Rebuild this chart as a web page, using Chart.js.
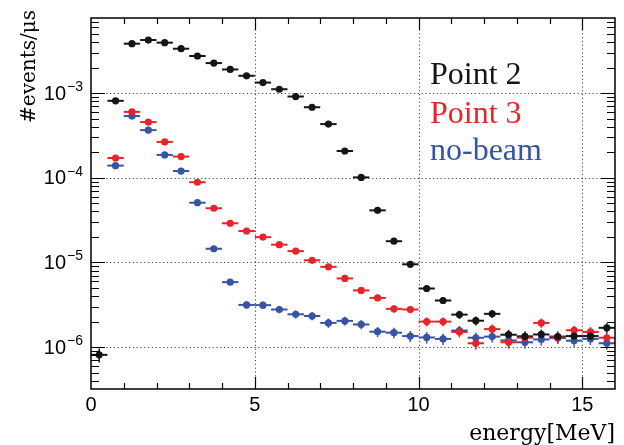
<!DOCTYPE html>
<html>
<head>
<meta charset="utf-8">
<script src="https://cdn.jsdelivr.net/npm/chart.js@4.4.0/dist/chart.umd.min.js"></script>
<style>
  html, body { margin: 0; padding: 0; background: #fff; }
  #wrap { width: 624px; height: 445px; position: relative; }
</style>
</head>
<body>
<div id="wrap"><canvas id="c" width="624" height="445"></canvas></div>
<script>
// Energy bins (MeV): centres of 0.5 MeV wide bins
const binCenters = [0.25, 0.75, 1.25, 1.75, 2.25, 2.75, 3.25, 3.75, 4.25, 4.75,
                    5.25, 5.75, 6.25, 6.75, 7.25, 7.75, 8.25, 8.75, 9.25, 9.75,
                    10.25, 10.75, 11.25, 11.75, 12.25, 12.75, 13.25, 13.75, 14.25, 14.75,
                    15.25, 15.75];
const binHalfWidth = 0.25;

// Rates in events per microsecond
const point2 = [8.1e-7, 8.1e-4, 3.83e-3, 4.23e-3, 3.94e-3, 3.34e-3, 2.74e-3, 2.26e-3, 1.90e-3, 1.60e-3,
                1.33e-3, 1.11e-3, 9.1e-4, 6.8e-4, 4.3e-4, 2.07e-4, 1.01e-4, 4.12e-5, 1.78e-5, 9.5e-6,
                4.92e-6, 3.55e-6, 2.42e-6, 2.05e-6, 2.47e-6, 1.40e-6, 1.34e-6, 1.41e-6, 1.33e-6, 1.35e-6,
                1.35e-6, 1.69e-6];
const point2Err = [1.5e-7, 5e-6, 1e-5, 1.1e-5, 1.1e-5, 1e-5, 9e-6, 8e-6, 7.5e-6, 7e-6,
                   6e-6, 5.7e-6, 5.2e-6, 4.5e-6, 3.5e-6, 2.5e-6, 1.7e-6, 1.1e-6, 7e-7, 5.3e-7,
                   3.8e-7, 3.2e-7, 2.7e-7, 2.5e-7, 2.7e-7, 2.0e-7, 2.0e-7, 2.0e-7, 2.0e-7, 2.0e-7,
                   2.0e-7, 2.2e-7];

const point3 = [null, 1.71e-4, 6.0e-4, 4.54e-4, 2.65e-4, 1.78e-4, 8.85e-5, 4.36e-5, 2.90e-5, 2.35e-5,
                1.99e-5, 1.62e-5, 1.36e-5, 1.06e-5, 8.87e-6, 6.47e-6, 4.67e-6, 3.81e-6, 2.83e-6, 2.78e-6,
                2.0e-6, 2.0e-6, 1.51e-6, 1.11e-6, 1.63e-6, 1.14e-6, 1.29e-6, 1.93e-6, 1.30e-6, 1.58e-6,
                1.51e-6, 1.29e-6];
const point3Err = [null, 2.2e-6, 4.2e-6, 3.6e-6, 2.8e-6, 2.3e-6, 1.6e-6, 1.1e-6, 9e-7, 8.3e-7,
                   7.6e-7, 6.9e-7, 6.3e-7, 5.6e-7, 5.1e-7, 4.3e-7, 3.7e-7, 3.3e-7, 2.9e-7, 2.8e-7,
                   2.4e-7, 2.4e-7, 2.1e-7, 1.8e-7, 2.2e-7, 1.8e-7, 1.9e-7, 2.4e-7, 1.9e-7, 2.1e-7,
                   2.1e-7, 1.9e-7];

const noBeam = [null, 1.39e-4, 5.35e-4, 3.65e-4, 1.86e-4, 1.20e-4, 5.07e-5, 1.45e-5, 5.85e-6, 3.15e-6,
                3.13e-6, 2.78e-6, 2.44e-6, 2.33e-6, 1.93e-6, 2.04e-6, 1.85e-6, 1.52e-6, 1.48e-6, 1.35e-6,
                1.30e-6, 1.25e-6, 1.57e-6, 1.29e-6, 1.33e-6, 1.20e-6, 1.14e-6, 1.23e-6, 1.28e-6, 1.19e-6,
                1.25e-6, 1.11e-6];
const noBeamErr = [null, 2e-6, 4e-6, 3.2e-6, 2.3e-6, 1.9e-6, 1.2e-6, 6.5e-7, 4.1e-7, 3.0e-7,
                   3.0e-7, 2.8e-7, 2.7e-7, 2.6e-7, 2.4e-7, 2.4e-7, 2.3e-7, 2.1e-7, 2.1e-7, 2.0e-7,
                   2.0e-7, 1.9e-7, 2.1e-7, 1.9e-7, 2.0e-7, 1.9e-7, 1.8e-7, 1.9e-7, 1.9e-7, 1.8e-7,
                   1.9e-7, 1.8e-7];

const seriesNames = ['Point 2', 'Point 3', 'no-beam'];
const seriesColors = ['#151515', '#e8232b', '#3653a4'];

// Axis ticks and labels
const xRange = [0, 16];
const yRange = [3.2e-7, 7.7e-3];
const xMajorTicks = [0, 5, 10, 15];
const xTickLabels = ['0', '5', '10', '15'];
const xMinorStep = 1;
const yDecadeExponents = [-3, -4, -5, -6];
const xTitle = 'energy[MeV]';
const yTitle = '#events/\u03bcs';

function toPoints(vals, errs) {
  const pts = [];
  binCenters.forEach((x, i) => {
    if (vals[i] !== null) pts.push({ x: x, y: vals[i], err: errs[i] });
  });
  return pts;
}

const seriesData = [toPoints(point2, point2Err), toPoints(point3, point3Err), toPoints(noBeam, noBeamErr)];

// Grid lines, error bars, frame, ticks and text
const rootStyle = {
  id: 'rootStyle',
  beforeDatasetsDraw(chart) {
    const ctx = chart.ctx, xs = chart.scales.x, ys = chart.scales.y, a = chart.chartArea;
    ctx.save();
    // dotted grid at major ticks
    ctx.strokeStyle = 'rgba(40,40,40,0.85)';
    ctx.lineWidth = 1;
    ctx.setLineDash([1.2, 2.6]);
    xMajorTicks.forEach(v => {
      if (v <= xRange[0]) return;
      const px = Math.round(xs.getPixelForValue(v)) + 0.5;
      ctx.beginPath(); ctx.moveTo(px, a.top); ctx.lineTo(px, a.bottom); ctx.stroke();
    });
    yDecadeExponents.forEach(e => {
      const py = Math.round(ys.getPixelForValue(Math.pow(10, e))) + 0.5;
      ctx.beginPath(); ctx.moveTo(a.left, py); ctx.lineTo(a.right, py); ctx.stroke();
    });
    ctx.setLineDash([]);
    // error bars
    chart.data.datasets.forEach(ds => {
      ctx.strokeStyle = ds.borderColor;
      ds.data.forEach(p => {
        const px = xs.getPixelForValue(p.x);
        const py = ys.getPixelForValue(p.y);
        const x0 = xs.getPixelForValue(p.x - binHalfWidth);
        const x1 = xs.getPixelForValue(p.x + binHalfWidth);
        ctx.lineWidth = 2;
        ctx.beginPath(); ctx.moveTo(x0, py); ctx.lineTo(x1, py); ctx.stroke();
        const yl = ys.getPixelForValue(Math.max(p.y - p.err, yRange[0]));
        const yh = ys.getPixelForValue(p.y + p.err);
        ctx.lineWidth = 1.5;
        ctx.beginPath(); ctx.moveTo(px, yl); ctx.lineTo(px, yh); ctx.stroke();
      });
    });
    ctx.restore();
  },
  afterDraw(chart) {
    const ctx = chart.ctx, xs = chart.scales.x, ys = chart.scales.y, a = chart.chartArea;
    ctx.save();
    ctx.strokeStyle = '#000';
    ctx.lineWidth = 1.5;
    ctx.strokeRect(a.left, a.top, a.right - a.left, a.bottom - a.top);
    ctx.lineWidth = 1.2;
    // x ticks, bottom and top, pointing inwards
    for (let v = xRange[0] + xMinorStep; v < xRange[1]; v += xMinorStep) {
      const major = xMajorTicks.includes(v);
      const len = major ? 12 : 6;
      const px = Math.round(xs.getPixelForValue(v)) + 0.5;
      ctx.beginPath();
      ctx.moveTo(px, a.bottom); ctx.lineTo(px, a.bottom - len);
      ctx.moveTo(px, a.top); ctx.lineTo(px, a.top + len);
      ctx.stroke();
    }
    // y ticks (log), left and right, pointing inwards
    for (let e = -7; e <= -3; e++) {
      for (let m = 1; m <= 9; m++) {
        const v = m * Math.pow(10, e);
        if (v < yRange[0] || v > yRange[1]) continue;
        const len = m === 1 ? 14 : 8;
        const py = Math.round(ys.getPixelForValue(v)) + 0.5;
        ctx.beginPath();
        ctx.moveTo(a.left, py); ctx.lineTo(a.left + len, py);
        ctx.moveTo(a.right, py); ctx.lineTo(a.right - len, py);
        ctx.stroke();
      }
    }
    // x tick labels
    ctx.fillStyle = '#000';
    ctx.font = '20px "Liberation Sans", Arial, sans-serif';
    ctx.textAlign = 'center';
    ctx.textBaseline = 'middle';
    xMajorTicks.forEach((v, i) => {
      ctx.fillText(xTickLabels[i], xs.getPixelForValue(v), a.bottom + 16);
    });
    // y tick labels: 10 with superscript exponent
    yDecadeExponents.forEach(e => {
      const py = ys.getPixelForValue(Math.pow(10, e));
      const expText = '\u2212' + Math.abs(e);
      ctx.font = '14px "Liberation Sans", Arial, sans-serif';
      const ew = ctx.measureText(expText).width;
      const expRight = a.left - 8;
      ctx.textAlign = 'left';
      ctx.textBaseline = 'alphabetic';
      ctx.fillText(expText, expRight - ew, py - 2);
      ctx.font = '20px "Liberation Sans", Arial, sans-serif';
      ctx.textAlign = 'right';
      ctx.textBaseline = 'middle';
      ctx.fillText('10', expRight - ew - 1, py + 1);
    });
    // axis titles
    ctx.textAlign = 'right';
    ctx.textBaseline = 'alphabetic';
    ctx.font = '22px "DejaVu Serif", serif';
    ctx.fillText(xTitle, a.right, 440);
    ctx.save();
    ctx.font = '20px "DejaVu Serif", serif';
    ctx.translate(35, a.top - 8);
    ctx.rotate(-Math.PI / 2);
    ctx.fillText(yTitle, 0, 0);
    ctx.restore();
    // legend text
    ctx.font = '32px "Liberation Serif", "Times New Roman", serif';
    ctx.textAlign = 'left';
    const legendY = [84, 123, 160];
    seriesNames.forEach((n, i) => {
      ctx.fillStyle = seriesColors[i];
      ctx.fillText(n, 430, legendY[i]);
    });
    ctx.restore();
  }
};

new Chart(document.getElementById('c'), {
  type: 'scatter',
  data: {
    datasets: seriesNames.map((n, i) => ({
      label: n,
      data: seriesData[i],
      borderColor: seriesColors[i],
      backgroundColor: seriesColors[i],
      pointRadius: 3.6,
      pointBorderWidth: 0,
      showLine: false
    }))
  },
  options: {
    responsive: false,
    animation: false,
    events: [],
    layout: { padding: { left: 91, right: 9, top: 18, bottom: 56 } },
    plugins: { legend: { display: false }, tooltip: { enabled: false } },
    scales: {
      x: { type: 'linear', min: xRange[0], max: xRange[1], display: false },
      y: { type: 'logarithmic', min: yRange[0], max: yRange[1], display: false }
    }
  },
  plugins: [rootStyle]
});
</script>
</body>
</html>
